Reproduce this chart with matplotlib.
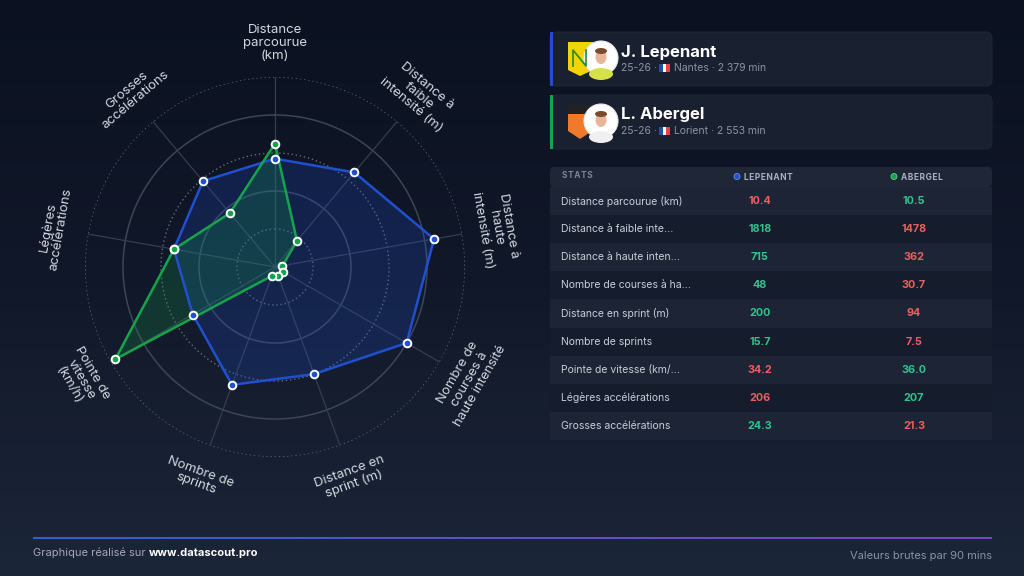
import numpy as np
import matplotlib
matplotlib.use("Agg")
import matplotlib.pyplot as plt
from matplotlib.patches import FancyBboxPatch, Rectangle, Circle, Ellipse, Polygon
from matplotlib.colors import LinearSegmentedColormap

plt.rcParams["font.family"] = ["Inter", "DejaVu Sans"]

# radar axes (clockwise from top)
RADAR_LABELS = [
    "Distance\nparcourue\n(km)",
    "Distance à\nfaible\nintensité (m)",
    "Distance à\nhaute\nintensité (m)",
    "Nombre de\ncourses à\nhaute intensité",
    "Distance en\nsprint (m)",
    "Nombre de\nsprints",
    "Pointe de\nvitesse\n(km/h)",
    "Légères\naccélérations",
    "Grosses\naccélérations",
]

# normalised radar values (0..1)
LEPENANT_RADAR = [0.57, 0.65, 0.85, 0.80, 0.60, 0.66, 0.50, 0.54, 0.59]
ABERGEL_RADAR = [0.65, 0.18, 0.04, 0.05, 0.05, 0.05, 0.97, 0.54, 0.37]

# table
STAT_NAMES = [
    "Distance parcourue (km)",
    "Distance à faible inte...",
    "Distance à haute inten...",
    "Nombre de courses à ha...",
    "Distance en sprint (m)",
    "Nombre de sprints",
    "Pointe de vitesse (km/...",
    "Légères accélérations",
    "Grosses accélérations",
]
LEPENANT_STATS = [10.4, 1818, 715, 48, 200, 15.7, 34.2, 206, 24.3]
ABERGEL_STATS = [10.5, 1478, 362, 30.7, 94, 7.5, 36.0, 207, 21.3]
LEPENANT_TXT = ["10.4", "1818", "715", "48", "200", "15.7", "34.2", "206", "24.3"]
ABERGEL_TXT = ["10.5", "1478", "362", "30.7", "94", "7.5", "36.0", "207", "21.3"]

BLUE = "#2050d0"
GREEN = "#16a34a"
GOOD = "#33c28e"
BAD = "#ec5f5f"
LABEL_COL = "#d3d7df"
SUB_COL = "#8b93a5"


def spaced(s):
    # fake letter spacing for the small caps headers
    return "\u200a".join(s)


def draw_radar(fig):
    ax = fig.add_axes([0.0830, 0.2066, 0.3711, 0.6597], projection="polar")
    ax.set_facecolor("none")
    ax.set_theta_zero_location("N")
    ax.set_theta_direction(-1)
    ax.set_ylim(0, 1)
    ax.grid(False)
    ax.spines["polar"].set_visible(False)
    ax.set_xticks([])
    ax.set_yticks([])

    n = len(RADAR_LABELS)
    angles = np.linspace(0, 2 * np.pi, n, endpoint=False)
    full = np.linspace(0, 2 * np.pi, 361)

    # rings: dotted / solid alternating
    for i, r in enumerate([0.2, 0.4, 0.6, 0.8, 1.0]):
        if i % 2 == 0:
            ax.plot(full, [r] * len(full), color="#646c7d", lw=1.0, ls=(0, (1, 2)), zorder=1)
        else:
            ax.plot(full, [r] * len(full), color="#3d4556", lw=1.1, zorder=1)
    for a in angles:
        ax.plot([a, a], [0, 1.0], color="#363e4e", lw=0.9, zorder=1)

    for vals, col, falpha in [(LEPENANT_RADAR, BLUE, 0.22), (ABERGEL_RADAR, GREEN, 0.22)]:
        v = list(vals) + [vals[0]]
        a = list(angles) + [angles[0]]
        ax.fill(a, v, color=col, alpha=falpha, zorder=2, lw=0)
        ax.plot(a, v, color=col, lw=1.8, zorder=3)
        ax.plot(angles, vals, "o", ms=5.5, mfc=col, mec="white", mew=1.4, zorder=4, ls="none")

    for a, lab in zip(angles, RADAR_LABELS):
        deg = np.degrees(a)
        if deg <= 90 or deg >= 270:
            rot = -deg
        else:
            rot = 180 - deg
        ax.text(a, 1.18, lab, rotation=rot, rotation_mode="anchor", ha="center", va="center",
                multialignment="center", fontsize=9.5, color=LABEL_COL, linespacing=1.1,
                clip_on=False)


def draw_card(ax, y0, name, club, minutes, accent, logo):
    ax.add_patch(FancyBboxPatch((550, y0), 442, 54, boxstyle="round,pad=0,rounding_size=6",
                                fc="#192030", ec="#222a3a", lw=0.6))
    ax.add_patch(Rectangle((550, y0), 3, 54, fc=accent, ec="none"))
    # club badge
    if logo == "nantes":
        ax.add_patch(Polygon([(568, y0 + 10), (593, y0 + 10), (593, y0 + 38), (580, y0 + 44),
                              (568, y0 + 38)], fc="#f2d400", ec="none"))
        ax.plot([573, 573, 586, 586], [y0 + 34, y0 + 18, y0 + 34, y0 + 18], color="#1f8a3a", lw=1.2)
        shirt = "#d6e04a"
    else:
        ax.add_patch(Polygon([(568, y0 + 10), (592, y0 + 10), (592, y0 + 36), (580, y0 + 44),
                              (568, y0 + 36)], fc="#f07a2a", ec="none"))
        ax.add_patch(Rectangle((568, y0 + 10), 24, 9, fc="#222222", ec="none"))
        shirt = "#f0f0f0"
    # photo
    cx, cy = 601, y0 + 26
    ax.add_patch(Circle((cx, cy), 17, fc="white", ec="#e8e8e8", lw=0.8))
    ax.add_patch(Ellipse((cx, cy + 16), 24, 12, fc=shirt, ec="none"))
    ax.add_patch(Ellipse((cx, cy - 1), 11, 14, fc="#e7b697", ec="none"))
    ax.add_patch(Ellipse((cx, cy - 7), 12, 6, fc="#7a4a2c", ec="none"))

    ax.text(621, y0 + 20, name, fontsize=12, fontweight="bold", color="white", va="center")
    ax.text(621, y0 + 36, "25-26 ·", fontsize=7.5, color=SUB_COL, va="center")
    for k, fc in enumerate(["#1f4fa8", "white", "#e8414b"]):
        ax.add_patch(Rectangle((659 + k * 3.7, y0 + 32), 3.7, 8, fc=fc, ec="none"))
    ax.text(674, y0 + 36, f"{club} · {minutes} min", fontsize=7.5, color=SUB_COL, va="center")


def draw_table(ax):
    top, rh = 187, 28.1
    ax.add_patch(FancyBboxPatch((550, 167), 442, 20, boxstyle="round,pad=0,rounding_size=4",
                                fc="#1f2737", ec="none"))
    ax.text(562, 176, spaced("STATS"), fontsize=6, color="#7c8598", fontweight="bold", va="center")
    ax.add_patch(Circle((737, 176.5), 3, fc=BLUE, ec="#6d8ef0", lw=0.6))
    ax.text(744, 177, spaced("LEPENANT"), fontsize=6, color="#aab1c0", fontweight="bold",
            va="center")
    ax.add_patch(Circle((894, 176.5), 3, fc=GREEN, ec="#5cd08a", lw=0.6))
    ax.text(901, 177, spaced("ABERGEL"), fontsize=6, color="#aab1c0", fontweight="bold",
            va="center")

    for i, stat in enumerate(STAT_NAMES):
        y = top + i * rh
        fc = "#1c2435" if i % 2 == 0 else "#151c2b"
        ax.add_patch(Rectangle((550, y), 442, rh, fc=fc, ec="none"))
        yc = y + rh / 2
        ax.text(561, yc, stat, fontsize=7.5, color="#c9ced8", va="center")
        a, b = LEPENANT_STATS[i], ABERGEL_STATS[i]
        ca = GOOD if a > b else BAD
        cb = GOOD if b > a else BAD
        ax.text(760, yc, LEPENANT_TXT[i], fontsize=7.8, color=ca, fontweight="bold",
                ha="center", va="center")
        ax.text(914, yc, ABERGEL_TXT[i], fontsize=7.8, color=cb, fontweight="bold",
                ha="center", va="center")


def main():
    fig = plt.figure(figsize=(10.24, 5.76), dpi=100)
    ui = fig.add_axes([0, 0, 1, 1])
    ui.set_xlim(0, 1024)
    ui.set_ylim(576, 0)
    ui.axis("off")

    bg = LinearSegmentedColormap.from_list("bg", ["#0b1120", "#111829", "#1c2639"])
    grad = np.linspace(0, 1, 256).reshape(-1, 1)
    ui.imshow(grad, cmap=bg, extent=[0, 1024, 576, 0], aspect="auto", zorder=-10)

    draw_card(ui, 32, "J. Lepenant", "Nantes", "2 379", BLUE, "nantes")
    draw_card(ui, 95, "L. Abergel", "Lorient", "2 553", GREEN, "lorient")
    draw_table(ui)

    # footer gradient line
    line_cm = LinearSegmentedColormap.from_list("ln", ["#2f5fd6", "#5b4fcf", "#7a45c8"])
    ui.imshow(np.linspace(0, 1, 256).reshape(1, -1), cmap=line_cm,
              extent=[33, 992, 539.2, 537.2], aspect="auto", zorder=1)
    t1 = ui.text(33, 556, "Graphique réalisé sur\u00a0", fontsize=8, color="#a3aab8", va="baseline")
    ui.annotate("www.datascout.pro", xy=(1, 0), xycoords=t1, fontsize=8, color="white",
                fontweight="bold", va="bottom", ha="left")
    ui.text(992, 556, "Valeurs brutes par 90 mins", fontsize=8, color="#8b93a5",
            ha="right", va="center")

    draw_radar(fig)
    fig.savefig("out.png", dpi=100, facecolor="#0b1120")


if __name__ == "__main__":
    main()
